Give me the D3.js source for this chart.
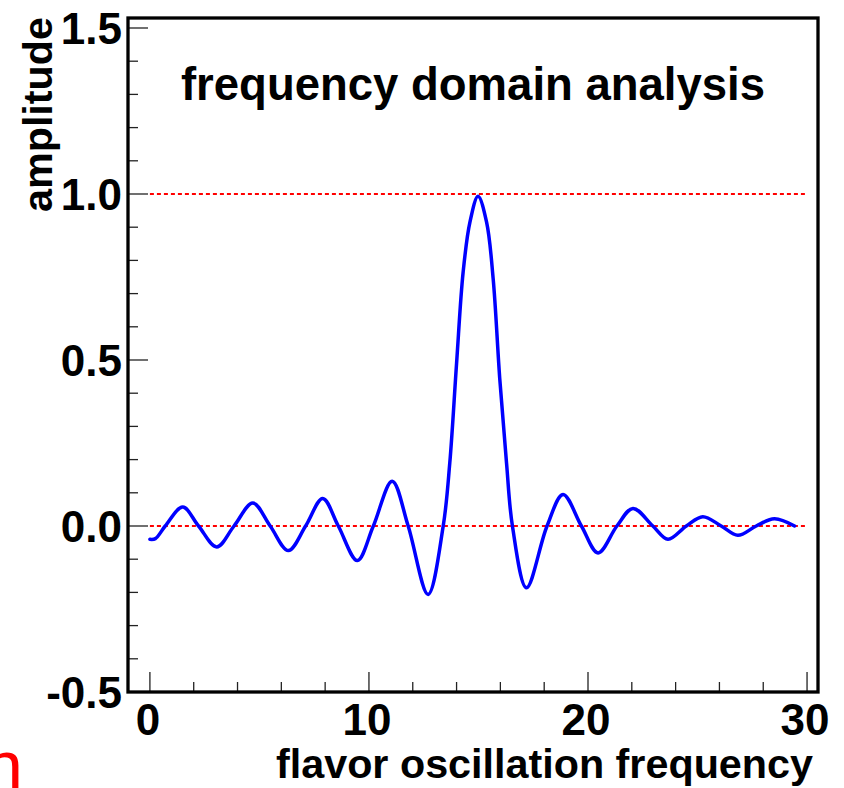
<!DOCTYPE html>
<html>
<head>
<meta charset="utf-8">
<script src="https://cdn.jsdelivr.net/npm/d3@7"></script>
<style>
  body { margin: 0; background: #fff; }
  svg { display: block; }
  text { font-family: "Liberation Sans", Arial, sans-serif; }
</style>
</head>
<body>
<svg id="chart" width="844" height="788"></svg>
<script>
// values
const freq = [0, 0.25, 0.70, 1.50, 2.22, 3.05, 3.84, 4.70, 5.49, 6.32, 7.11, 7.89, 8.60, 9.47,
  10.20, 11.06, 11.79, 12.70, 13.39, 13.69, 14.00, 14.30, 14.61, 14.98, 15.37, 15.67,
  15.97, 16.28, 16.55, 17.19, 18.13, 18.86, 19.70, 20.46, 21.32, 22.05, 22.96, 23.65,
  24.49, 25.24, 26.08, 26.84, 27.68, 28.51, 29.43];
const amp = [-0.040, -0.038, 0, 0.057, 0, -0.063, 0, 0.069, 0, -0.074, 0, 0.083, 0, -0.104,
  0, 0.135, 0, -0.206, 0, 0.19, 0.49, 0.765, 0.915, 0.993, 0.915, 0.745,
  0.445, 0.19, 0, -0.186, 0, 0.095, 0, -0.081, 0, 0.053, 0, -0.040,
  0, 0.028, 0, -0.028, 0, 0.022, 0];
const refLevels = [0, 1];
const xMajor = [0, 10, 20, 30];
const yMajor = [-0.5, 0.0, 0.5, 1.0, 1.5];

const svg = d3.select("#chart");
const frameL = 128, frameR = 818, frameT = 18, frameB = 692;

const x = d3.scaleLinear().domain([-1, 30.5]).range([frameL, frameR]);
const y = d3.scaleLinear().domain([-0.5, 1.5]).range([frameB, 28]);

// minor / major ticks on left and bottom
const yTicks = d3.range(-5, 16).map(i => i / 10);
svg.append("g").selectAll("line").data(yTicks).join("line")
  .attr("x1", frameL).attr("x2", d => frameL + (Math.abs(d * 2 - Math.round(d * 2)) < 1e-6 ? 20 : 10))
  .attr("y1", d => y(d)).attr("y2", d => y(d))
  .attr("stroke", "#222").attr("stroke-width", 1.3);

const xTicks = d3.range(0, 31, 2);
svg.append("g").selectAll("line").data(xTicks).join("line")
  .attr("x1", d => x(d)).attr("x2", d => x(d))
  .attr("y1", frameB).attr("y2", d => frameB - (d % 10 === 0 ? 20 : 10))
  .attr("stroke", "#222").attr("stroke-width", 1.3);

// tick labels (plain hyphen for the minus sign, as in the original)
svg.append("g").selectAll("text").data(yMajor).join("text")
  .attr("x", frameL - 6).attr("y", d => y(d)).attr("dy", "0.36em")
  .attr("text-anchor", "end").attr("font-size", 44).attr("font-weight", "bold")
  .text(d => d.toFixed(1));

svg.append("g").selectAll("text").data(xMajor).join("text")
  .attr("x", d => x(d) - 2).attr("y", 735)
  .attr("text-anchor", "middle").attr("font-size", 44).attr("font-weight", "bold")
  .text(d => d);

// red dashed reference lines
svg.append("g").selectAll("line").data(refLevels).join("line")
  .attr("x1", x(0)).attr("x2", x(30))
  .attr("y1", d => y(d)).attr("y2", d => y(d))
  .attr("stroke", "#ff0000").attr("stroke-width", 2)
  .attr("stroke-dasharray", "4,3");

// the curve
const pts = freq.map((f, i) => [f, amp[i]]);
svg.append("path").datum(pts)
  .attr("fill", "none").attr("stroke", "#0000ff").attr("stroke-width", 3.5)
  .attr("stroke-linejoin", "round").attr("stroke-linecap", "round")
  .attr("d", d3.line().x(d => x(d[0])).y(d => y(d[1])).curve(d3.curveCatmullRom.alpha(0.5)));

// frame
svg.append("rect")
  .attr("x", frameL).attr("y", frameT).attr("width", frameR - frameL).attr("height", frameB - frameT)
  .attr("fill", "none").attr("stroke", "#000").attr("stroke-width", 3.3);

// titles
svg.append("text").attr("x", 473).attr("y", 100)
  .attr("text-anchor", "middle").attr("font-size", 45.5).attr("font-weight", "bold")
  .text("frequency domain analysis");

svg.append("text").attr("x", 813).attr("y", 778)
  .attr("text-anchor", "end").attr("font-size", 41.3).attr("font-weight", "bold")
  .text("flavor oscillation frequency");

svg.append("text")
  .attr("transform", "translate(52,17) rotate(-90)")
  .attr("text-anchor", "end").attr("font-size", 41.3).attr("font-weight", "bold")
  .text("amplitude");

// stray red glyph at the lower left corner (cut off in the original too)
svg.append("text").attr("x", 23).attr("y", 790)
  .attr("text-anchor", "end").attr("font-size", 70).attr("fill", "#ff0000")
  .text("n");
</script>
</body>
</html>
